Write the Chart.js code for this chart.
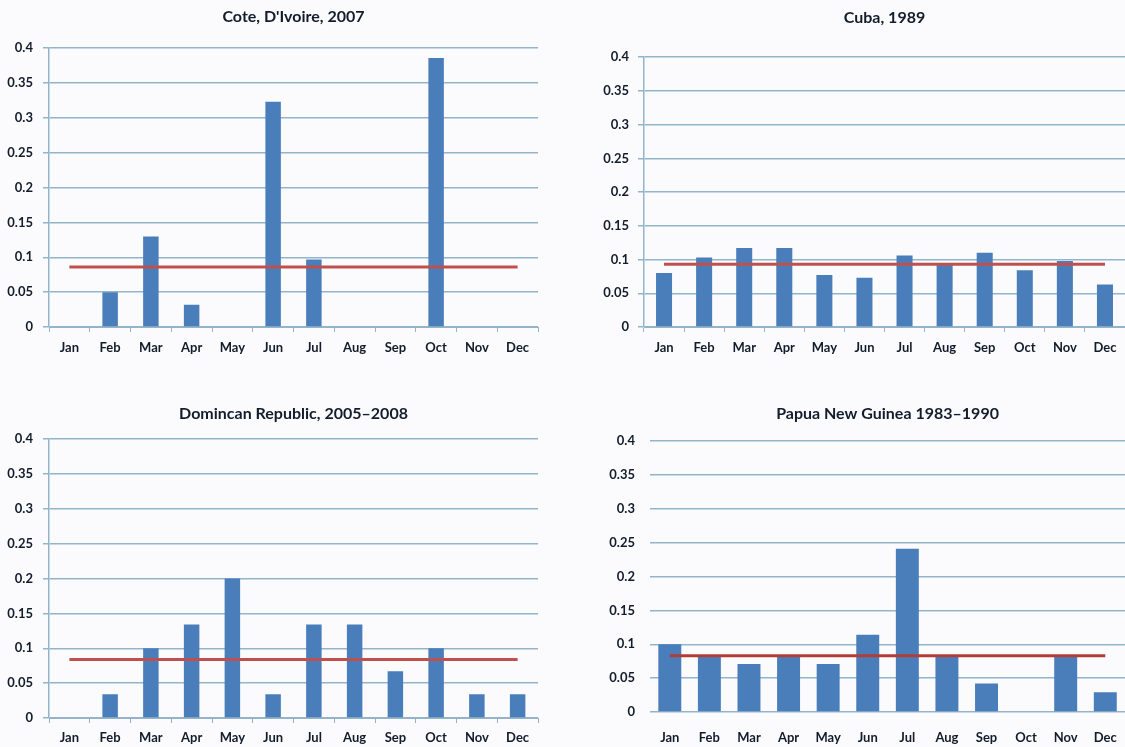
<!DOCTYPE html>
<html>
<head>
<meta charset="utf-8">
<script src="https://cdn.jsdelivr.net/npm/chart.js@4/dist/chart.umd.min.js"></script>
<style>
  html, body { margin: 0; padding: 0; background: #fbfbfd; overflow: hidden; }
  body { width: 1125px; height: 747px; position: relative; }
  .panel { position: absolute; }
</style>
</head>
<body>
<div class="panel" style="left:0;top:0;width:560px;height:370px"><canvas id="cote"></canvas></div>
<div class="panel" style="left:560px;top:0;width:565px;height:370px"><canvas id="cuba"></canvas></div>
<div class="panel" style="left:0;top:380px;width:560px;height:367px"><canvas id="domrep"></canvas></div>
<div class="panel" style="left:560px;top:380px;width:570px;height:367px"><canvas id="png"></canvas></div>
<script>
const months = ['Jan', 'Feb', 'Mar', 'Apr', 'May', 'Jun', 'Jul', 'Aug', 'Sep', 'Oct', 'Nov', 'Dec'];

const coteValues = [0, 0.05, 0.13, 0.032, 0, 0.323, 0.097, 0, 0, 0.386, 0, 0];
const coteMean = 0.086;

const cubaValues = [0.080, 0.103, 0.117, 0.117, 0.077, 0.073, 0.106, 0.093, 0.110, 0.084, 0.098, 0.063];
const cubaMean = 0.093;

const domRepValues = [0, 0.034, 0.1, 0.134, 0.2, 0.034, 0.134, 0.134, 0.067, 0.1, 0.034, 0.034];
const domRepMean = 0.084;

const pngValues = [0.1, 0.083, 0.071, 0.083, 0.071, 0.114, 0.241, 0.083, 0.042, 0, 0.083, 0.029];
const pngMean = 0.083;

const yTicks = { min: 0, max: 0.4, step: 0.05 };

const barColor = '#4a7ebb';
const gridColor = '#93b4ca';
const textColor = '#131c2b';

Chart.defaults.font.family = 'Lato';
Chart.defaults.color = textColor;

function makeChart(id, title, values, mean, cfg) {
    const ctx = document.getElementById(id).getContext('2d');
    return new Chart(ctx, {
        type: 'bar',
        data: {
            labels: months,
            datasets: [
                {
                    type: 'line',
                    data: months.map(() => mean),
                    borderColor: cfg.lineColor,
                    borderWidth: 3,
                    pointRadius: 0,
                    fill: false,
                    order: 0
                },
                {
                    data: values,
                    backgroundColor: barColor,
                    borderWidth: 0,
                    barPercentage: cfg.barPct,
                    categoryPercentage: 1,
                    order: 1
                }
            ]
        },
        options: {
            responsive: true,
            maintainAspectRatio: false,
            animation: false,
            layout: { padding: { top: 0, right: cfg.padRight, bottom: 0, left: 0 } },
            plugins: {
                legend: { display: false },
                tooltip: { enabled: false },
                title: {
                    display: true,
                    text: title,
                    fullSize: false,
                    color: textColor,
                    font: { size: 16, weight: 'bold' },
                    padding: { top: cfg.titleTop, bottom: cfg.titleBottom }
                }
            },
            scales: {
                x: {
                    grid: {
                        display: cfg.axes,
                        drawOnChartArea: false,
                        drawTicks: true,
                        tickLength: 5,
                        color: gridColor
                    },
                    border: { display: cfg.axes, color: gridColor },
                    ticks: {
                        autoSkip: false,
                        maxRotation: 0,
                        padding: cfg.xPad,
                        color: textColor,
                        font: { size: 13, weight: 'bold' }
                    },
                    afterFit(scale) { scale.height = cfg.xHeight; }
                },
                y: {
                    min: yTicks.min,
                    max: yTicks.max,
                    grid: {
                        color: gridColor,
                        lineWidth: 1.5,
                        drawTicks: cfg.axes,
                        tickLength: 6
                    },
                    border: { display: cfg.axes, color: gridColor, width: 1.5 },
                    ticks: {
                        stepSize: yTicks.step,
                        padding: cfg.yPad,
                        color: textColor,
                        font: { size: 13, weight: 'bold' },
                        callback: v => String(+v.toFixed(2))
                    },
                    afterFit(scale) { scale.width = cfg.yWidth; }
                }
            }
        }
    });
}

makeChart('cote', "Cote, D'Ivoire, 2007", coteValues, coteMean, {
    lineColor: '#c0504d', barPct: 0.38, axes: true, padRight: 22,
    titleTop: 7, titleBottom: 22, xHeight: 43, xPad: 8, yWidth: 49, yPad: 10
});

makeChart('cuba', 'Cuba, 1989', cubaValues, cubaMean, {
    lineColor: '#c0504d', barPct: 0.4, axes: true, padRight: 0,
    titleTop: 8, titleBottom: 30, xHeight: 43, xPad: 8, yWidth: 84, yPad: 9
});

makeChart('domrep', 'Domincan Republic, 2005\u20132008', domRepValues, domRepMean, {
    lineColor: '#c0504d', barPct: 0.38, axes: true, padRight: 22,
    titleTop: 24, titleBottom: 16, xHeight: 29, xPad: 7, yWidth: 49, yPad: 10
});

makeChart('png', 'Papua New Guinea 1983\u20131990', pngValues, pngMean, {
    lineColor: '#b23c36', barPct: 0.58, axes: false, padRight: 0,
    titleTop: 24, titleBottom: 18, xHeight: 35, xPad: 13, yWidth: 90, yPad: 15
});
</script>
</body>
</html>
